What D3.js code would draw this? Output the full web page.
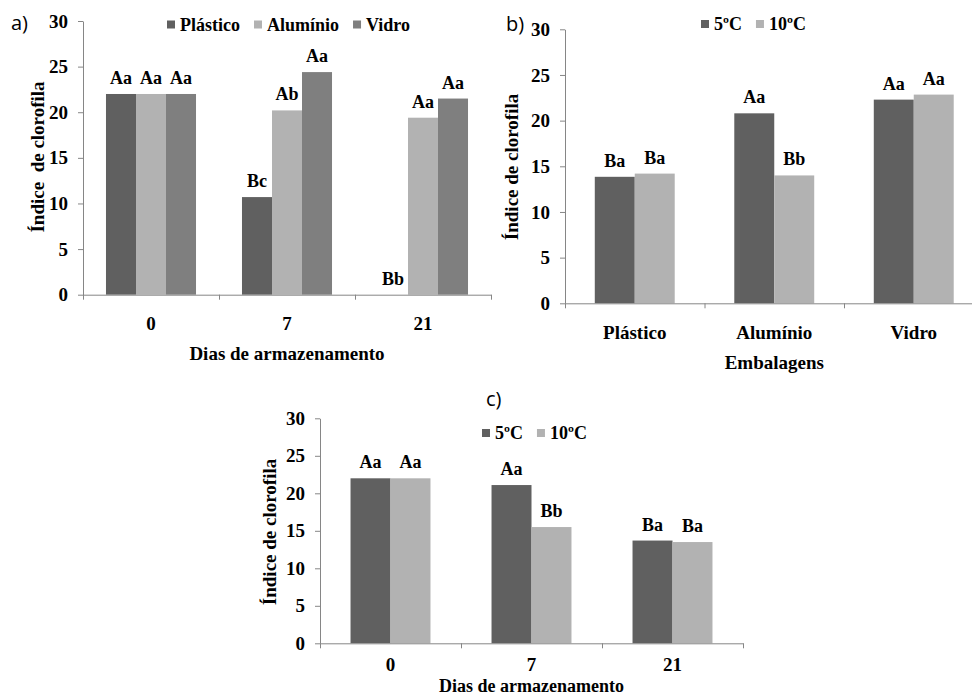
<!DOCTYPE html>
<html>
<head>
<meta charset="utf-8">
<script src="https://cdn.jsdelivr.net/npm/d3@7"></script>
<style>
  body { margin: 0; background: #fff; }
  svg text { font-family: "Liberation Serif", "Tinos", "Times New Roman", "DejaVu Serif", "Noto Serif", serif; font-weight: bold; fill: #000; }
  svg text.tag { font-family: "Open Sans", "Liberation Sans", sans-serif; font-weight: normal; }
  .axis path, .axis line { stroke: #868686; }
</style>
</head>
<body>
<svg id="chart" width="972" height="696"></svg>
<script>
const days = ['0', '7', '21'];
const packages = ['Plástico', 'Alumínio', 'Vidro'];
const temps = ['5ºC', '10ºC'];
const yTicks = [0, 5, 10, 15, 20, 25, 30];

// a) packaging per storage day
const aPlastico = [22.0, 10.7, 0];
const aAluminio = [22.0, 20.2, 19.4];
const aVidro = [22.0, 24.4, 21.5];
const aPlasticoLetters = ['Aa', 'Bc', 'Bb'];
const aAluminioLetters = ['Aa', 'Ab', 'Aa'];
const aVidroLetters = ['Aa', 'Aa', 'Aa'];

// b) temperature per packaging
const b5 = [13.85, 20.8, 22.3];
const b10 = [14.2, 14.0, 22.85];
const b5Letters = ['Ba', 'Aa', 'Aa'];
const b10Letters = ['Ba', 'Bb', 'Aa'];

// c) temperature per storage day
const c5 = [22.0, 21.1, 13.7];
const c10 = [22.0, 15.5, 13.5];
const c5Letters = ['Aa', 'Aa', 'Ba'];
const c10Letters = ['Aa', 'Bb', 'Ba'];

const dark = '#606060', light = '#b2b2b2', mid = '#7f7f7f';

const svg = d3.select('#chart');

function drawPanel(p) {
  let g = svg.append('g');
  let y = d3.scaleLinear().domain([0, 30]).range([p.bottom, p.top]);
  let x = d3.scaleBand().domain(p.categories).range([p.left, p.right]);
  let groupW = x.bandwidth() * p.groupFrac;
  let off = (x.bandwidth() - groupW) / 2;
  let xs = d3.scaleBand().domain(p.series.map(s => s.name)).range([0, groupW]);

  // bars
  p.series.forEach(s => {
    let rows = p.categories.map((c, i) => ({ cat: c, v: s.values[i], label: s.letters[i] }));
    g.selectAll(null)
      .data(rows)
      .enter().append('rect')
      .attr('x', d => x(d.cat) + off + xs(s.name))
      .attr('width', xs.bandwidth())
      .attr('y', d => y(d.v))
      .attr('height', d => y(0) - y(d.v))
      .attr('fill', s.color);
    g.selectAll(null)
      .data(rows)
      .enter().append('text')
      .attr('x', d => x(d.cat) + off + xs(s.name) + xs.bandwidth() / 2)
      .attr('y', d => y(d.v) - 10)
      .attr('text-anchor', 'middle')
      .style('font-size', '18px')
      .text(d => d.label);
  });

  // y axis
  let yAxis = g.append('g')
    .attr('class', 'axis')
    .attr('transform', `translate(${p.left},0)`)
    .call(d3.axisLeft(y).tickValues(yTicks).tickSizeInner(5).tickSizeOuter(0).tickPadding(10));
  yAxis.selectAll('text').attr('font-family', null).style('font-size', '19px');

  // x axis line with ticks between groups
  let idx = d3.scaleLinear().domain([0, p.categories.length]).range([p.left, p.right]);
  g.append('g')
    .attr('class', 'axis')
    .attr('transform', `translate(0,${p.bottom})`)
    .call(d3.axisBottom(idx).tickValues(d3.range(p.categories.length + 1)).tickFormat('').tickSizeInner(5).tickSizeOuter(0));

  // category labels
  let xLab = g.append('g')
    .attr('transform', `translate(0,${p.bottom})`)
    .call(d3.axisBottom(x).tickSize(0).tickPadding(p.labelPad));
  xLab.select('.domain').remove();
  xLab.selectAll('text').style('font-size', '19px');

  // titles
  g.append('text')
    .attr('x', (p.left + p.right) / 2)
    .attr('y', p.xTitleY)
    .attr('text-anchor', 'middle')
    .style('font-size', p.xTitleSize + 'px')
    .text(p.xTitle);

  g.append('text')
    .attr('transform', `translate(${p.yTitleX},${p.yTitleY}) rotate(-90)`)
    .attr('text-anchor', 'middle')
    .style('font-size', '19px')
    .style('white-space', 'pre')
    .text(p.yTitle);

  g.append('text')
    .attr('class', 'tag')
    .attr('x', p.tag[1])
    .attr('y', p.tag[2])
    .style('font-size', '20px')
    .text(p.tag[0]);

  // legend
  let lx = p.legendX;
  p.series.forEach(s => {
    g.append('rect')
      .attr('x', lx).attr('y', p.legendY - 10)
      .attr('width', 8).attr('height', 8)
      .attr('fill', s.color);
    let t = g.append('text')
      .attr('x', lx + 13)
      .attr('y', p.legendY)
      .style('font-size', '18px')
      .text(s.name);
    lx += 13 + t.node().getComputedTextLength() + 14;
  });
}

drawPanel({
  categories: days,
  series: [
    { name: packages[0], values: aPlastico, letters: aPlasticoLetters, color: dark },
    { name: packages[1], values: aAluminio, letters: aAluminioLetters, color: light },
    { name: packages[2], values: aVidro, letters: aVidroLetters, color: mid }
  ],
  left: 83, right: 491, top: 21, bottom: 294.7, groupFrac: 0.662, labelPad: 22,
  xTitle: 'Dias de armazenamento', xTitleY: 360, xTitleSize: 19,
  yTitle: 'Índice  de clorofila', yTitleX: 44, yTitleY: 157,
  tag: ['a)', 11, 30],
  legendX: 167, legendY: 30.5
});

drawPanel({
  categories: packages,
  series: [
    { name: temps[0], values: b5, letters: b5Letters, color: dark },
    { name: temps[1], values: b10, letters: b10Letters, color: light }
  ],
  left: 565, right: 983.5, top: 29.3, bottom: 303.3, groupFrac: 0.573, labelPad: 22,
  xTitle: 'Embalagens', xTitleY: 369, xTitleSize: 19,
  yTitle: 'Índice de clorofila', yTitleX: 518, yTitleY: 167,
  tag: ['b)', 506, 31],
  legendX: 701, legendY: 30
});

drawPanel({
  categories: days,
  series: [
    { name: temps[0], values: c5, letters: c5Letters, color: dark },
    { name: temps[1], values: c10, letters: c10Letters, color: light }
  ],
  left: 320, right: 743, top: 418.3, bottom: 643.3, groupFrac: 0.567, labelPad: 14,
  xTitle: 'Dias de armazenamento', xTitleY: 692, xTitleSize: 18,
  yTitle: 'Índice de clorofila', yTitleX: 276, yTitleY: 532,
  tag: ['c)', 486, 406],
  legendX: 482, legendY: 439
});
</script>
</body>
</html>
